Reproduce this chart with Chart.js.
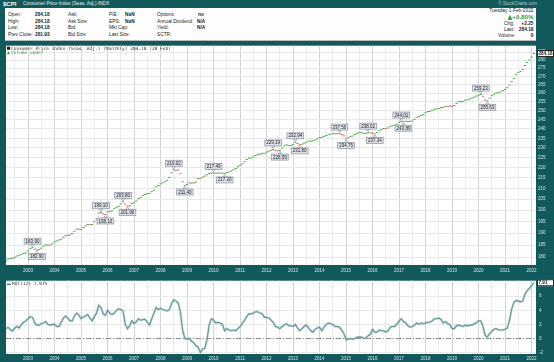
<!DOCTYPE html>
<html>
<head>
<meta charset="utf-8">
<script src="https://cdn.jsdelivr.net/npm/chart.js@4/dist/chart.umd.min.js"></script>
<style>
body { margin:0; width:554px; height:362px; background:#11595a; overflow:hidden; position:relative; font-family:'Liberation Sans', Arial, sans-serif; }
.t { position:absolute; white-space:nowrap; line-height:1; font-size:4.8px; color:#222; }
.b { font-weight:bold; }
.r { text-align:right; }
#info { position:absolute; left:5px; top:8px; width:531px; height:32px; background:#fff; border-bottom:1px solid #b4bcbc; }
canvas { position:absolute; }
</style>
</head>
<body>
<!-- header bar -->
<div class="t b" style="left:3px;top:1px;font-size:6px;color:#fff">$CPI</div>
<div class="t" style="left:23px;top:1.8px;color:#e8f0f0">Consumer Price Index (Seas. Adj.) INDX</div>
<div class="t" style="right:17px;top:2px;font-size:4.5px;color:#b9d0d0">© StockCharts.com</div>

<div id="info"></div>
<!-- info panel (page coordinates) -->
<div class="t" style="left:8px;top:13.3px">Open:</div>
<div class="t" style="left:8px;top:19.8px">High:</div>
<div class="t" style="left:8px;top:26.3px">Low:</div>
<div class="t" style="left:8px;top:32.8px">Prev Close:</div>
<div class="t b" style="left:35px;top:13.3px">284.18</div>
<div class="t b" style="left:35px;top:19.8px">284.18</div>
<div class="t b" style="left:35px;top:26.3px">284.18</div>
<div class="t b" style="left:35px;top:32.8px">281.93</div>
<div class="t" style="left:68px;top:13.3px">Ask:</div>
<div class="t" style="left:68px;top:19.8px">Ask Size:</div>
<div class="t" style="left:68px;top:26.3px">Bid:</div>
<div class="t" style="left:68px;top:32.8px">Bid Size:</div>
<div class="t" style="left:109px;top:13.3px">P/E:</div>
<div class="t" style="left:109px;top:19.8px">EPS:</div>
<div class="t" style="left:109px;top:26.3px">Mkt Cap:</div>
<div class="t" style="left:109px;top:32.8px">Last Size:</div>
<div class="t b" style="left:125px;top:13.3px">NaN</div>
<div class="t b" style="left:125px;top:19.8px">NaN</div>
<div class="t" style="left:157px;top:13.3px">Options:</div>
<div class="t" style="left:157px;top:19.8px">Annual Dividend:</div>
<div class="t" style="left:157px;top:26.3px">Yield:</div>
<div class="t" style="left:157px;top:32.8px">SCTR:</div>
<div class="t b" style="left:198px;top:13.3px">no</div>
<div class="t b" style="left:197px;top:19.8px">N/A</div>
<div class="t b" style="left:197px;top:26.3px">N/A</div>

<div class="t r" style="right:20.5px;top:8.6px">Tuesday 1-Feb-2022</div>
<div class="t b r" style="right:20.5px;top:14.2px;font-size:6.2px;color:#2e9a3a"><span style="font-family:'DejaVu Sans'">▲</span>+0.80%</div>
<div class="t" style="left:504px;top:21.6px">Chg:</div>
<div class="t b r" style="right:20.5px;top:21.6px">+2.25</div>
<div class="t" style="left:504px;top:28px">Last:</div>
<div class="t b r" style="right:20.5px;top:28px">284.18</div>
<div class="t" style="left:498px;top:34.4px">Volume:</div>
<div class="t b r" style="right:20.5px;top:34.4px">0</div>

<canvas id="cpiChart" width="548" height="233" style="left:6px;top:41px"></canvas>
<canvas id="rocChart" width="548" height="87" style="left:6px;top:275px"></canvas>

<script>
// months counted from Jan 2002 = 0; first plotted month is Mar 2002
const firstMonth = 2;

// CPI, seasonally adjusted, monthly closes (Mar 2002 .. Feb 2022)
const cpiValues = [
    178.5, 179.3, 179.5, 179.6, 180.0, 180.5, 180.8, 181.2, 181.5, 181.8,
    182.6, 183.6, 183.9, 183.2, 182.9, 183.1, 183.7, 184.5, 185.1, 184.9, 185.0, 185.5,
    186.3, 186.7, 187.1, 187.4, 188.2, 188.9, 189.1, 189.2, 189.8, 190.8, 191.7, 191.7,
    191.6, 192.4, 193.1, 193.7, 193.6, 193.7, 194.9, 196.1, 198.8, 199.1, 198.4, 198.1,
    199.3, 199.4, 199.7, 200.7, 201.3, 201.8, 202.9, 203.8, 202.8, 201.9, 202.0, 203.1,
    203.4, 204.2, 205.3, 205.9, 206.8, 207.2, 207.6, 207.7, 208.5, 209.2, 210.8, 211.4,
    212.2, 212.7, 213.4, 213.9, 215.2, 217.5, 219.0, 218.7, 218.9, 217.0, 213.2, 211.4,
    211.9, 212.7, 212.5, 212.7, 213.0, 214.8, 214.7, 215.4, 215.9, 216.5, 217.2, 217.3,
    217.5, 217.3, 217.4, 217.4, 217.3, 217.2, 217.6, 217.9, 218.3, 219.0, 219.6, 220.5,
    221.2, 221.9, 223.0, 224.1, 224.8, 224.8, 225.4, 226.1, 226.6, 226.8, 227.2, 227.2,
    227.8, 228.3, 228.8, 229.2, 228.7, 228.5, 228.6, 229.9, 231.0, 231.6, 231.2, 231.2,
    231.7, 232.9, 232.3, 231.8, 231.9, 232.4, 232.9, 233.5, 233.5, 233.7, 234.1, 234.7,
    235.3, 235.5, 236.0, 236.5, 236.9, 237.2, 237.45, 237.4, 237.45, 237.5, 237.0, 236.3,
    234.7, 235.3, 236.0, 236.2, 237.0, 237.7, 238.0, 238.0, 237.5, 237.7, 238.0, 237.8,
    237.7, 237.3, 238.1, 239.0, 239.6, 240.2, 240.1, 240.5, 241.2, 241.7, 242.0, 242.6,
    243.6, 244.0, 243.9, 244.2, 244.0, 244.2, 244.2, 245.2, 246.4, 246.6, 247.3, 247.8,
    248.9, 249.5, 249.6, 250.2, 250.8, 251.0, 251.2, 251.7, 251.8, 252.5, 252.4, 252.7,
    252.4, 252.9, 254.0, 255.0, 255.2, 255.3, 256.0, 256.2, 256.6, 257.2, 257.7, 258.3,
    258.8, 259.2, 258.2, 256.0, 255.6, 257.1, 258.6, 259.4, 260.2, 260.3, 260.8, 261.5,
    262.2, 263.2, 264.8, 266.8, 268.6, 271.0, 272.3, 273.0, 274.1, 276.6, 278.5, 280.1,
    281.93, 284.18
];

// ROC(12) in percent, same months
const rocValues = [
    1.4, 1.6, 1.2, 1.1, 1.5, 1.7, 1.5, 2.0, 2.3, 2.5,
    2.8, 3.1, 3.0, 2.2, 1.9, 1.9, 2.1, 2.2, 2.4, 2.0, 1.9, 2.0,
    2.0, 1.7, 1.7, 2.3, 2.9, 3.2, 2.9, 2.5, 2.5, 3.2, 3.6, 3.3,
    2.8, 3.1, 3.2, 3.4, 2.9, 2.5, 3.1, 3.6, 4.7, 4.4, 3.5, 3.3,
    4.0, 3.6, 3.4, 3.6, 4.0, 4.2, 4.1, 3.9, 2.0, 1.4, 1.8, 2.5,
    2.1, 2.4, 2.8, 2.6, 2.7, 2.7, 2.3, 1.9, 2.8, 3.6, 4.4, 4.1,
    4.3, 4.1, 4.0, 3.9, 4.1, 5.0, 5.5, 5.3, 5.0, 3.7, 1.1, 0.0,
    -0.1, 0.0, -0.4, -0.6, -1.0, -1.2, -2.0, -1.5, -1.4, -0.2, 1.9, 2.8,
    2.6, 2.2, 2.3, 2.2, 2.0, 1.1, 1.4, 1.2, 1.1, 1.2, 1.1, 1.4,
    1.7, 2.1, 2.6, 3.1, 3.5, 3.5, 3.6, 3.8, 3.8, 3.6, 3.5, 3.0,
    3.0, 2.9, 2.6, 2.3, 1.7, 1.6, 1.4, 1.7, 1.9, 2.1, 1.8, 1.8,
    1.7, 2.0, 1.5, 1.1, 1.4, 1.7, 1.9, 1.5, 1.1, 0.9, 1.3, 1.5,
    1.6, 1.1, 1.6, 2.0, 2.2, 2.1, 2.0, 1.7, 1.7, 1.6, 1.2, 0.7,
    -0.2, -0.1, 0.0, -0.1, 0.0, 0.2, 0.2, 0.2, 0.0, 0.1, 0.4, 0.6,
    1.3, 0.9, 0.9, 1.2, 1.1, 1.1, 0.9, 1.1, 1.6, 1.7, 1.7, 2.0,
    2.5, 2.8, 2.4, 2.2, 1.8, 1.6, 1.7, 1.9, 2.2, 2.0, 2.2, 2.1,
    2.2, 2.3, 2.3, 2.5, 2.8, 2.8, 2.9, 2.7, 2.2, 2.4, 2.1, 2.0,
    1.4, 1.4, 1.8, 1.9, 1.8, 1.7, 1.9, 1.8, 1.9, 1.9, 2.1, 2.2,
    2.5, 2.5, 1.7, 0.4, 0.2, 0.7, 1.0, 1.3, 1.4, 1.2, 1.2, 1.2,
    1.3, 1.5, 2.6, 4.2, 5.1, 5.4, 5.3, 5.2, 5.3, 6.3, 6.8, 7.1,
    7.5, 7.91
];

const yearLabels = ['2003', '2004', '2005', '2006', '2007', '2008', '2009', '2010', '2011', '2012',
    '2013', '2014', '2015', '2016', '2017', '2018', '2019', '2020', '2021', '2022'];
const priceTicks = [180, 185, 190, 195, 200, 205, 210, 215, 220, 225, 230, 235, 240,
    245, 250, 255, 260, 265, 270, 275, 280, 285];
const rocTicks = [-2, -1, 0, 1, 2, 3, 4, 5, 6, 7];

// peak / trough call-outs on the price panel
const peakLabels = [
    { month: 14, text: '183.90', side: 'above' },
    { month: 16, text: '182.90', side: 'below' },
    { month: 45, text: '199.10', side: 'above' },
    { month: 47, text: '198.10', side: 'below' },
    { month: 55, text: '203.80', side: 'above' },
    { month: 57, text: '201.90', side: 'below' },
    { month: 78, text: '219.02', side: 'above' },
    { month: 83, text: '211.40', side: 'below' },
    { month: 96, text: '217.49', side: 'above' },
    { month: 101, text: '217.20', side: 'below' },
    { month: 123, text: '229.19', side: 'above' },
    { month: 126, text: '228.59', side: 'below' },
    { month: 133, text: '232.94', side: 'above' },
    { month: 135, text: '231.80', side: 'below' },
    { month: 153, text: '237.50', side: 'above' },
    { month: 156, text: '234.75', side: 'below' },
    { month: 166, text: '238.02', side: 'above' },
    { month: 169, text: '237.34', side: 'below' },
    { month: 181, text: '244.01', side: 'above' },
    { month: 182, text: '243.89', side: 'below' },
    { month: 217, text: '259.23', side: 'above' },
    { month: 220, text: '255.63', side: 'below' }
];

const TEAL_TEXT = '#d5e3e3';
const GREEN = '#4fa64f';
const RED = '#e2646e';
const ROC_COLOR = '#2f6f6c';
const MONO = '4.5px "DejaVu Sans Mono", monospace';

Chart.defaults.font.family = "'Liberation Sans', Arial, sans-serif";

const plotBg = {
    id: 'plotBg',
    beforeDraw(chart) {
        const { ctx, chartArea: a } = chart;
        ctx.save();
        ctx.fillStyle = '#fff';
        ctx.fillRect(a.left, a.top, a.width, a.height);
        ctx.restore();
    }
};

function drawTag(ctx, a, py, text) {
    ctx.save();
    ctx.font = 'bold 4.6px "Liberation Sans"';
    ctx.fillStyle = '#fff';
    ctx.strokeStyle = '#222';
    ctx.lineWidth = 1;
    ctx.fillRect(a.right + 1, py - 3.5, 17, 7);
    ctx.strokeRect(a.right + 1.5, py - 3, 16, 6);
    ctx.fillStyle = '#111';
    ctx.textAlign = 'left';
    ctx.textBaseline = 'middle';
    ctx.fillText(text, a.right + 2.5, py + 0.3);
    ctx.restore();
}

const peakCallouts = {
    id: 'peakCallouts',
    afterDatasetsDraw(chart) {
        const { ctx, scales: { x, y } } = chart;
        ctx.save();
        ctx.font = '4.5px "Liberation Sans"';
        ctx.textAlign = 'center';
        ctx.textBaseline = 'middle';
        peakLabels.forEach(p => {
            const v = cpiValues[p.month - firstMonth];
            const px = x.getPixelForValue(p.month);
            const py = y.getPixelForValue(v);
            const w = ctx.measureText(p.text).width + 3;
            const h = 6;
            const above = p.side === 'above';
            const boxTop = above ? py - 3.5 - h : py + 3.5;
            const edge = above ? boxTop + h : boxTop;
            ctx.beginPath();
            ctx.moveTo(px - 1.8, edge);
            ctx.lineTo(px + 1.8, edge);
            ctx.lineTo(px, above ? py - 1 : py + 1);
            ctx.closePath();
            ctx.fillStyle = '#fff';
            ctx.fill();
            ctx.strokeStyle = '#8a92a0';
            ctx.lineWidth = 0.7;
            ctx.stroke();
            ctx.fillStyle = '#dde1e8';
            ctx.fillRect(px - w / 2, boxTop, w, h);
            ctx.strokeRect(px - w / 2, boxTop, w, h);
            ctx.fillStyle = '#222';
            ctx.fillText(p.text, px, boxTop + h / 2 + 0.3);
        });
        ctx.restore();
    },
    afterDraw(chart) {
        const { ctx, chartArea: a } = chart;
        const last = cpiValues[cpiValues.length - 1];
        drawTag(ctx, a, chart.scales.y.getPixelForValue(last), last.toFixed(2));

        // panel legend
        ctx.save();
        ctx.fillStyle = '#111';
        ctx.fillRect(a.left + 1, a.top + 1, 3, 3);
        ctx.font = MONO;
        ctx.textBaseline = 'middle';
        ctx.fillStyle = '#333';
        ctx.fillText('Consumer Price Index (Seas. Adj.) (Monthly) 284.18 (28 Feb)', a.left + 5, a.top + 2.7);
        ctx.fillStyle = '#3a9a3a';
        ctx.beginPath();
        ctx.moveTo(a.left + 1, a.top + 8.5);
        ctx.lineTo(a.left + 4, a.top + 8.5);
        ctx.lineTo(a.left + 2.5, a.top + 5.5);
        ctx.closePath();
        ctx.fill();
        ctx.fillText('Volume undef', a.left + 5, a.top + 7.3);
        ctx.restore();
    }
};

const rocExtras = {
    id: 'rocExtras',
    beforeDatasetsDraw(chart) {
        const { ctx, chartArea: a, scales: { y } } = chart;
        const zy = Math.round(y.getPixelForValue(0)) + 0.5;
        ctx.save();
        ctx.strokeStyle = '#8c8c8c';
        ctx.lineWidth = 1;
        ctx.setLineDash([5, 2, 1, 2]);
        ctx.beginPath();
        ctx.moveTo(a.left, zy);
        ctx.lineTo(a.right, zy);
        ctx.stroke();
        ctx.restore();
    },
    afterDraw(chart) {
        const { ctx, chartArea: a } = chart;
        const last = rocValues[rocValues.length - 1];
        drawTag(ctx, a, chart.scales.y.getPixelForValue(last), last.toFixed(2));

        ctx.save();
        ctx.fillStyle = ROC_COLOR;
        ctx.fillRect(a.left + 1, a.top + 3, 4, 1.2);
        ctx.font = MONO;
        ctx.textBaseline = 'middle';
        ctx.fillStyle = '#333';
        ctx.fillText('ROC(12) 7.91%', a.left + 6, a.top + 3.6);
        ctx.restore();
    }
};

function monthAxis(stripHeight, pad) {
    return {
        type: 'linear',
        position: 'bottom',
        min: 2,
        max: 242,
        afterBuildTicks: s => {
            const t = [];
            for (let m = 6; m <= 240; m += 6) t.push({ value: m });
            s.ticks = t;
        },
        afterFit: s => { s.height = stripHeight; },
        ticks: {
            autoSkip: false,
            maxRotation: 0,
            padding: pad,
            color: TEAL_TEXT,
            font: { size: 4.5 },
            callback: v => (v % 12 === 0 ? yearLabels[v / 12 - 1] : '')
        },
        grid: {
            drawTicks: false,
            color: c => (c.tick && c.tick.value % 12 === 0 ? '#d4d4d4' : '#ebebeb')
        },
        border: { display: false }
    };
}

const baseOptions = {
    responsive: false,
    animation: false,
    events: [],
    layout: { padding: 0, autoPadding: false },
    plugins: { legend: { display: false }, tooltip: { enabled: false } }
};

new Chart(document.getElementById('cpiChart'), {
    type: 'line',
    data: {
        datasets: [{
            data: cpiValues.map((v, i) => ({ x: firstMonth + i, y: v })),
            showLine: false,
            pointStyle: 'line',
            pointRadius: 1.1,
            pointBorderWidth: 1,
            pointBorderColor: c => {
                const i = c.dataIndex;
                return i > 0 && cpiValues[i] < cpiValues[i - 1] ? RED : GREEN;
            }
        }]
    },
    options: {
        ...baseOptions,
        scales: {
            x: monthAxis(9, 3),
            y: {
                type: 'logarithmic',
                position: 'right',
                min: 176.9,
                max: 289.2,
                afterBuildTicks: s => { s.ticks = priceTicks.map(v => ({ value: v })); },
                afterFit: s => { s.width = 18; },
                ticks: { padding: 2, color: TEAL_TEXT, font: { size: 4.5 }, callback: v => String(v) },
                grid: { drawTicks: false, color: '#e8e8e8' },
                border: { display: false }
            }
        }
    },
    plugins: [plotBg, peakCallouts]
});

new Chart(document.getElementById('rocChart'), {
    type: 'line',
    data: {
        datasets: [{
            // soft halo under the ROC line
            data: rocValues.map((v, i) => ({ x: firstMonth + i, y: v })),
            borderColor: 'rgba(150,190,188,0.5)',
            borderWidth: 2.4,
            pointRadius: 0
        }, {
            data: rocValues.map((v, i) => ({ x: firstMonth + i, y: v })),
            borderColor: ROC_COLOR,
            borderWidth: 1.1,
            pointRadius: 0
        }]
    },
    options: {
        ...baseOptions,
        scales: {
            x: monthAxis(8, 2),
            y: {
                type: 'linear',
                position: 'right',
                min: -2.2,
                max: 8.2,
                afterBuildTicks: s => { s.ticks = rocTicks.map(v => ({ value: v })); },
                afterFit: s => { s.width = 18; },
                ticks: { padding: 3, color: TEAL_TEXT, font: { size: 4.5 } },
                grid: { drawTicks: false, color: '#e8e8e8' },
                border: { display: false }
            }
        }
    },
    plugins: [plotBg, rocExtras]
});
</script>
</body>
</html>
